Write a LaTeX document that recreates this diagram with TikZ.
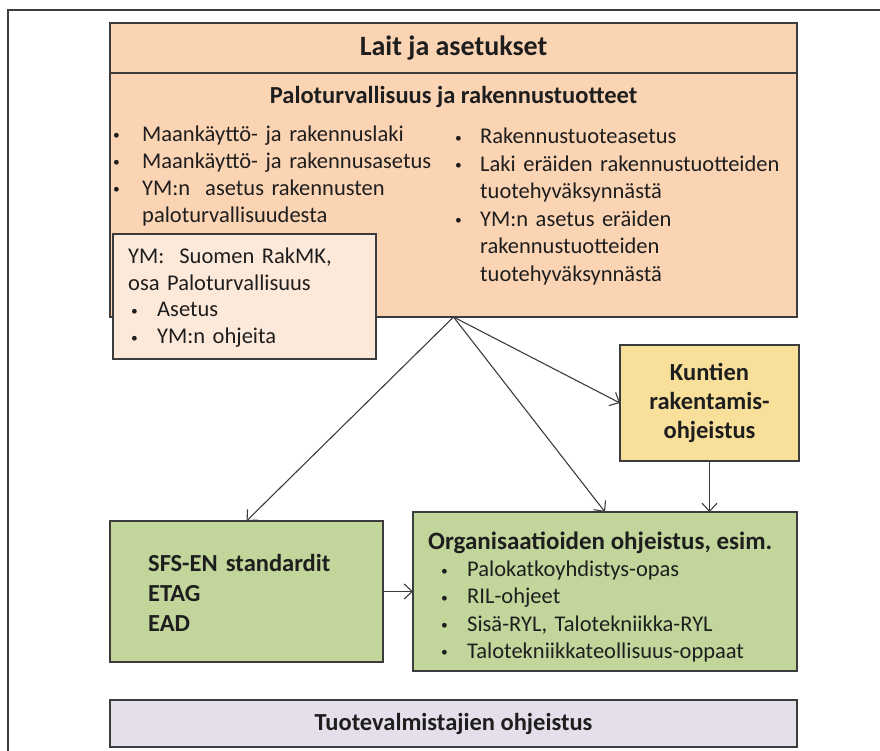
\documentclass[tikz,border=0pt]{standalone}
\usepackage{fontspec}
\setmainfont{Carlito}
\usetikzlibrary{arrows.meta}
\definecolor{peach}{HTML}{FBD4B4}
\definecolor{lightpeach}{HTML}{FDE9D9}
\definecolor{gold}{HTML}{F9E09A}
\definecolor{olive}{HTML}{C2D69B}
\definecolor{lavender}{HTML}{E5DFEC}
\definecolor{edge}{HTML}{3C3C3C}
\definecolor{ink}{HTML}{1E1E1E}
\frenchspacing
\newcommand{\bul}[3][0pt]{\hangindent=#2\hangafter=1\noindent\makebox[#2][l]{\hspace*{#1}\raisebox{1.5pt}{\scalebox{0.6}{\textbullet}}}#3\par}
\begin{document}
\begin{tikzpicture}[x=1pt,y=-1pt,
  box/.style={draw=edge, line width=1.8pt, inner sep=0pt, outer sep=0pt, text=ink},
  body/.style={font=\fontsize{22.5}{27}\selectfont, text=ink, inner sep=0pt, align=left, anchor=base west},
  head/.style={font=\bfseries\fontsize{24.5}{29}\selectfont, text=ink, inner sep=0pt},
  link/.style={draw=edge, line width=1.1pt, -{Straight Barb[length=8pt,width=15pt]}}]
\useasboundingbox (0,0) rectangle (880,751);
\draw [edge, line width=1.5pt] (880,10) -- (8,10) -- (8,751);
\node [box, fill=peach, minimum width=687pt, minimum height=50pt, font=\bfseries\fontsize{28}{34}\selectfont] (lawhead) at (453.5,48) {Lait ja asetukset};
\node [box, fill=peach, minimum width=687pt, minimum height=244pt] (lawbody) at (453.5,195) {};
\node [head] (lawsub) at (453.5,97) {Paloturvallisuus ja rakennustuotteet};
\node [body, text width=330pt] (lawleft) at (113,141.5) {\bul{29pt}{Maankäyttö- ja rakennuslaki}\bul{29pt}{Maankäyttö- ja rakennusasetus}\bul{29pt}{YM:n\ \ asetus rakennusten\newline paloturvallisuudesta}};
\node [body, text width=340pt, font=\fontsize{22.5}{27.5}\selectfont] (lawright) at (455,144) {\bul{25pt}{Rakennustuoteasetus}\bul{25pt}{Laki eräiden rakennustuotteiden\newline tuotehyväksynnästä}\bul{25pt}{YM:n asetus eräiden\newline rakennustuotteiden\newline tuotehyväksynnästä}};
\node [box, fill=lightpeach, minimum width=263pt, minimum height=125pt] (rakmk) at (244.5,296.5) {};
\node [body, text width=240pt, font=\fontsize{22.5}{26.7}\selectfont] (rakmktext) at (128,263.5) {YM:\ \ Suomen RakMK,\newline osa Paloturvallisuus\par\bul[3pt]{29pt}{Asetus}\bul[3pt]{29pt}{YM:n ohjeita}};
\node [box, fill=gold, minimum width=179pt, minimum height=116pt, align=center, font=\bfseries\fontsize{24.5}{29}\selectfont] (kunta) at (709.5,403) {Kuntien\\rakentamis-\\ohjeistus};
\node [box, fill=olive, minimum width=273pt, minimum height=141pt] (sfs) at (246.5,591.5) {};
\node [body, text width=220pt, font=\bfseries\fontsize{24.5}{30}\selectfont] (sfstext) at (148,571) {SFS-EN standardit\par ETAG\par EAD};
\node [box, fill=olive, minimum width=384pt, minimum height=159pt] (org) at (605,591.5) {};
\node [head, anchor=base west, font=\bfseries\fontsize{25}{30}\selectfont] (orgtitle) at (428,549) {Organisaatioiden ohjeistus, esim.};
\node [body, text width=340pt, font=\fontsize{22.5}{27.3}\selectfont] (orglist) at (441,576.5) {\bul{26pt}{Palokatkoyhdistys-opas}\bul{26pt}{RIL-ohjeet}\bul{26pt}{Sisä-RYL, Talotekniikka-RYL}\bul{26pt}{Talotekniikkateollisuus-oppaat}};
\node [box, fill=lavender, minimum width=687pt, minimum height=47pt, font=\bfseries\fontsize{24.5}{29}\selectfont] (maker) at (453.5,723.5) {Tuotevalmistajien ohjeistus};
\draw [link] (lawbody.south) -- (sfs.north);
\draw [link] (lawbody.south) -- (org.north);
\draw [link] (lawbody.south) -- (kunta.west);
\draw [link] (kunta.south) -- (kunta.south |- org.north);
\draw [link] (sfs.east) -- (sfs.east -| org.west);
\end{tikzpicture}
\end{document}
